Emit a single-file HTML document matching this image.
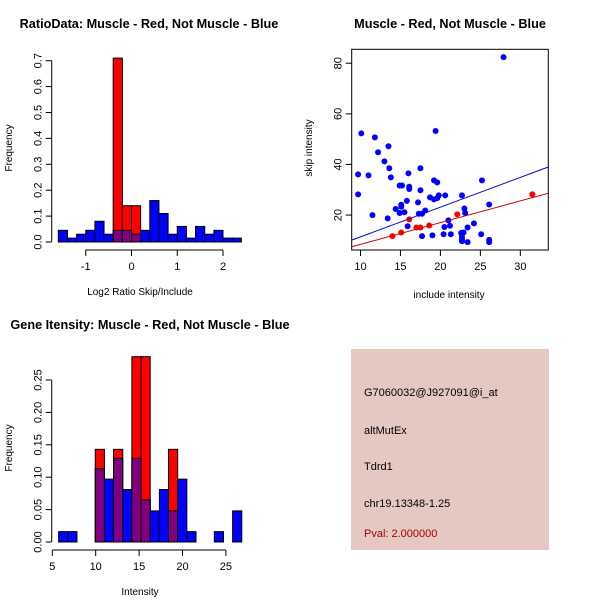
<!DOCTYPE html>
<html><head><meta charset="utf-8"><style>
body{margin:0;background:#fff;}
svg{display:block;font-family:"Liberation Sans",sans-serif;}
</style></head><body>
<svg id="c" width="600" height="600" viewBox="0 0 600 600" xmlns="http://www.w3.org/2000/svg">
<rect width="600" height="600" fill="#fff"/>
<text x="149" y="28" text-anchor="middle" font-size="12.7" font-weight="bold">RatioData: Muscle - Red, Not Muscle - Blue</text>
<text x="450" y="28" text-anchor="middle" font-size="12.7" font-weight="bold">Muscle - Red, Not Muscle - Blue</text>
<text x="150" y="329" text-anchor="middle" font-size="12.7" font-weight="bold">Gene Itensity: Muscle - Red, Not Muscle - Blue</text>
<g>
<rect x="351" y="349" width="198" height="201" fill="#e6c8c2"/>
<text x="364" y="396" font-size="11">G7060032@J927091@i_at</text>
<text x="364" y="434" font-size="11">altMutEx</text>
<text x="364" y="470" font-size="11">Tdrd1</text>
<text x="364" y="507" font-size="11">chr19.13348-1.25</text>
<text x="364" y="537" font-size="11" fill="#a00000">Pval: 2.000000</text>
</g>
</svg>
<script>
// ---- histogram 1 data ----
const h1Start = -1.6, h1Width = 0.2;
const h1Blue = [0.045,0.015,0.03,0.045,0.08,0.03,0.045,0.045,0.03,0.045,0.16,0.11,0.03,0.06,0.015,0.06,0.03,0.045,0.015,0.015];
const h1Red  = [0,0,0,0,0,0,0.71,0.14,0.14,0,0,0,0,0,0,0,0,0,0,0];
const h1XTicks = [-1,0,1,2];
const h1YTicks = [0,0.1,0.2,0.3,0.4,0.5,0.6,0.7];
// ---- histogram 2 data ----
const h2Start = 5.73, h2Width = 1.055;
const h2Blue = [0.016,0.016,0,0,0.113,0.097,0.129,0.081,0.129,0.065,0.048,0.081,0.048,0.097,0.016,0,0,0.016,0,0.048];
const h2Red  = [0,0,0,0,0.143,0,0.143,0,0.286,0.286,0,0,0.143,0,0,0,0,0,0,0];
const h2XTicks = [5,10,15,20,25];
const h2YTicks = [0,0.05,0.10,0.15,0.20,0.25];
const h2YLabels = ["0.00","0.05","0.10","0.15","0.20","0.25"];
// ---- scatter data ----
const blueX = [27.9,10.1,11.8,19.4,12.2,13.5,13.0,13.6,17.5,9.7,11.0,13.8,16.0,25.2,19.2,19.6,14.9,15.2,16.1,16.1,17.5,9.7,18.7,19.2,19.6,19.8,20.6,22.7,31.5,15.8,17.2,15.1,15.1,26.1,14.4,23.0,18.1,14.9,15.5,17.3,17.7,23.1,11.5,13.4,21.0,21.2,15.9,20.5,24.2,23.4,17.7,19.0,20.4,21.3,25.1,22.6,22.9,22.7,22.7,23.4,26.1,26.1,22.7];
const blueY = [82.4,52.3,50.7,53.2,44.8,47.2,41.2,38.5,38.5,36.1,35.7,34.9,36.5,33.7,33.7,32.9,31.7,31.7,31.2,30.3,29.8,28.2,27.0,26.2,26.7,27.8,27.8,27.8,28.2,25.6,25.0,24.1,23.3,24.2,22.4,22.6,21.8,20.8,21.1,20.5,20.5,20.8,20.0,18.7,17.9,15.8,15.6,15.3,16.7,15.1,11.7,12.0,12.4,12.4,12.4,12.9,13.1,11.4,9.7,9.3,10.2,9.3,10.4];
const redX = [14.0,15.1,16.1,17.0,17.5,18.6,22.1,31.5];
const redY = [11.7,13.1,18.3,15.1,15.1,15.9,20.3,28.2];
const blueFit = [-0.36,1.175]; // intercept, slope
const redFit = [-0.14,0.858];
const scXTicks = [10,15,20,25,30];
const scYTicks = [20,40,60,80];

const NS="http://www.w3.org/2000/svg";
const svg=document.getElementById('c');
function mk(tag,attrs,parent){const e=document.createElementNS(NS,tag);for(const k in attrs)e.setAttribute(k,attrs[k]);(parent||svg).appendChild(e);return e;}

function hist(cfg){
  const g=mk('g',{});
  
  
  const sx=v=>cfg.x0+(v-cfg.xmin)*cfg.xs, sy=v=>cfg.y0-v*cfg.ys;
  for(let i=0;i<cfg.blue.length;i++){
    const a=cfg.start+i*cfg.w, b=a+cfg.w;
    const x1=sx(a), x2=sx(b);
    const bv=cfg.blue[i], rv=cfg.red[i];
    if(bv>0){const r=mk('rect',{x:x1,y:sy(bv),width:x2-x1,height:sy(0)-sy(bv),fill:'#0000ff',stroke:'#000','stroke-width':1},g);
      
      }
    if(rv>0){const r=mk('rect',{x:x1,y:sy(rv),width:x2-x1,height:sy(0)-sy(rv),fill:'#ff0000',stroke:'#000','stroke-width':1},g);
      
      }
    const m=Math.min(bv,rv);
    if(m>0){const r=mk('rect',{x:x1,y:sy(m),width:x2-x1,height:sy(0)-sy(m),fill:'#800080',stroke:'#000','stroke-width':1},g);
      
      }
  }
  const ax=cfg.axX, ay=cfg.axY;
  mk('line',{x1:sx(cfg.xt[0]),x2:sx(cfg.xt[cfg.xt.length-1]),y1:ax,y2:ax,stroke:'#000'},g);
  cfg.xt.forEach(t=>{mk('line',{x1:sx(t),x2:sx(t),y1:ax,y2:ax+6,stroke:'#000'},g);
    const tx=mk('text',{x:sx(t),y:ax+20,'text-anchor':'middle','font-size':11},g);tx.textContent=t;});
  mk('line',{x1:ay,x2:ay,y1:sy(cfg.yt[0]),y2:sy(cfg.yt[cfg.yt.length-1]),stroke:'#000'},g);
  cfg.yt.forEach((t,i)=>{mk('line',{x1:ay,x2:ay-6,y1:sy(t),y2:sy(t),stroke:'#000'},g);
    const tx=mk('text',{x:ay-10,y:sy(t),'text-anchor':'middle','font-size':11,transform:`rotate(-90 ${ay-10} ${sy(t)})`},g);tx.textContent=cfg.yl[i];});
  const xl=mk('text',{x:cfg.xlx,y:ax+45,'text-anchor':'middle','font-size':10},g);xl.textContent=cfg.xlabel;
  
  
  const yl=mk('text',{x:12,y:cfg.yly,'text-anchor':'middle','font-size':10,transform:`rotate(-90 12 ${cfg.yly})`},g);yl.textContent='Frequency';
  
  
}
hist({name:'ratio-histogram',blue:h1Blue,red:h1Red,start:h1Start,w:h1Width,xmin:-1.6,x0:58.3,xs:45.75,y0:242,ys:259,
  xt:h1XTicks,yt:h1YTicks,yl:h1YTicks.map(v=>v.toFixed(1)),axX:250,axY:51.7,xlabel:'Log2 Ratio Skip/Include',xlx:140,yly:148});
hist({name:'intensity-histogram',blue:h2Blue,red:h2Red,start:h2Start,w:h2Width,xmin:5,x0:52.3,xs:8.68,y0:542,ys:648,
  xt:h2XTicks,yt:h2YTicks,yl:h2YLabels,axX:550,axY:51.7,xlabel:'Intensity',xlx:140,yly:448});

(function(){
  const g=mk('g',{});
  
  
  const L=351.7,R=548.3,T=49.3,B=250;
  const xmin=8.9,xmax=33.5,ymin=6.2,ymax=85.5;
  const sx=v=>L+(v-xmin)/(xmax-xmin)*(R-L), sy=v=>B-(v-ymin)/(ymax-ymin)*(B-T);
  const cp=mk('clipPath',{id:'scclip'},g);mk('rect',{x:L,y:T,width:R-L,height:B-T},cp);
  blueX.forEach((x,i)=>{const c=mk('circle',{cx:sx(x),cy:sy(blueY[i]),r:3,fill:'#0000ff'},g);
    
    });
  redX.forEach((x,i)=>{const c=mk('circle',{cx:sx(x),cy:sy(redY[i]),r:3,fill:'#ff0000'},g);
    
    });
  [[blueFit,'#0000cc','blue-fit-line'],[redFit,'#cc0000','red-fit-line']].forEach(([f,col,n])=>{
    const l=mk('line',{x1:sx(xmin),y1:sy(f[0]+f[1]*xmin),x2:sx(xmax),y2:sy(f[0]+f[1]*xmax),stroke:col,'stroke-width':1,'clip-path':'url(#scclip)'},g);
    
    });
  mk('rect',{x:L,y:T,width:R-L,height:B-T,fill:'none',stroke:'#000'},g);
  scXTicks.forEach(t=>{mk('line',{x1:sx(t),x2:sx(t),y1:B,y2:B+6,stroke:'#000'},g);
    const tx=mk('text',{x:sx(t),y:B+20,'text-anchor':'middle','font-size':11},g);tx.textContent=t;});
  scYTicks.forEach(t=>{mk('line',{x1:L,x2:L-6,y1:sy(t),y2:sy(t),stroke:'#000'},g);
    const tx=mk('text',{x:L-10,y:sy(t),'text-anchor':'middle','font-size':11,transform:`rotate(-90 ${L-10} ${sy(t)})`},g);tx.textContent=t;});
  const xl=mk('text',{x:449,y:298,'text-anchor':'middle','font-size':10},g);xl.textContent='include intensity';
  
  
  const yl=mk('text',{x:312,y:148,'text-anchor':'middle','font-size':10,transform:'rotate(-90 312 148)'},g);yl.textContent='skip intensity';
  
  
})();
</script>
</body></html>
